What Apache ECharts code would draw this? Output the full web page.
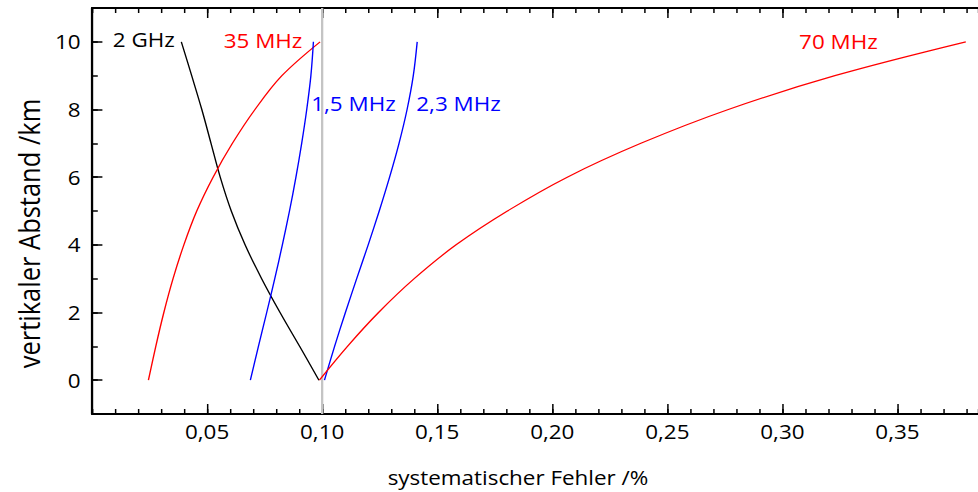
<!DOCTYPE html>
<html>
<head>
<meta charset="utf-8">
<script src="https://cdn.jsdelivr.net/npm/echarts@6/dist/echarts.min.js"></script>
<style>
  html, body { margin: 0; padding: 0; background: #fff; overflow: hidden; }
  /* The figure uses a horizontally widened type, so the drawing is stretched along x. */
  #chart { width: 850px; height: 492px; transform: scaleX(1.150588); transform-origin: 0 0; }
</style>
</head>
<body>
<div id="chart"></div>
<script>
// vertical distance (km) at which each curve was evaluated
const yKm = [0, 1, 2, 3, 4, 5, 6, 7, 8, 9, 10];

// systematic error (%) for each frequency, one value per entry of yKm
const err2GHz   = [0.0986, 0.0902, 0.0817, 0.0737, 0.0665, 0.0605, 0.0557, 0.0517, 0.0477, 0.0433, 0.0388];
const err35MHz  = [0.0245, 0.0277, 0.0312, 0.0352, 0.0399, 0.0455, 0.0526, 0.0610, 0.0708, 0.0825, 0.0991];
const err15MHz  = [0.0688, 0.0723, 0.0759, 0.0794, 0.0827, 0.0858, 0.0886, 0.0911, 0.0933, 0.0951, 0.0962];
const err23MHz  = [0.1010, 0.1054, 0.1101, 0.1150, 0.1200, 0.1248, 0.1293, 0.1334, 0.1369, 0.1396, 0.1413];
const err70MHz  = [0.0988, 0.1110, 0.1245, 0.1400, 0.1582, 0.1805, 0.2065, 0.2385, 0.2765, 0.3228, 0.3797];

// curve names
const curveNames = ['2 GHz', '35 MHz', '1,5 MHz', '2,3 MHz', '70 MHz'];

// reference error level marked by the grey vertical line
const refError = 0.10;

// axis ranges and tick values
const xMin = 0, xMax = 0.385;
const yMin = -1, yMax = 11;
const xMajorTicks = [0.05, 0.10, 0.15, 0.20, 0.25, 0.30, 0.35];
const yMajorTicks = [0, 2, 4, 6, 8, 10];

const FONT = 'Open Sans';
const chart = echarts.init(document.getElementById('chart'), null, { renderer: 'svg' });

const fmtX = v => v.toFixed(2).replace('.', ',');

function xAxisDef(pos, major, withLabels) {
  return {
    type: 'value', position: pos, min: xMin, max: xMax,
    interval: major ? 0.05 : 0.01,
    axisLine: { show: !major, onZero: false, lineStyle: { color: '#000', width: 2 } },
    axisTick: major
      ? { show: true, inside: true, length: 10, customValues: xMajorTicks, lineStyle: { color: '#000', width: 1.3 } }
      : { show: true, inside: true, length: 5, lineStyle: { color: '#000', width: 1.3 } },
    axisLabel: withLabels
      ? { show: true, customValues: xMajorTicks, formatter: fmtX, margin: 8,
          fontFamily: FONT, fontSize: 19.5, color: '#000' }
      : { show: false },
    splitLine: { show: false }
  };
}

function yAxisDef(major) {
  return {
    type: 'value', position: 'left', min: yMin, max: yMax, interval: 1,
    axisLine: { show: !major, onZero: false, lineStyle: { color: '#000', width: 2 } },
    axisTick: major
      ? { show: true, inside: true, length: 9, customValues: yMajorTicks, lineStyle: { color: '#000', width: 1.5 } }
      : { show: true, inside: true, length: 5, lineStyle: { color: '#000', width: 1.5 } },
    axisLabel: major
      ? { show: false }
      : { show: true, customValues: yMajorTicks, formatter: v => String(v), margin: 10,
          fontFamily: FONT, fontSize: 19.5, color: '#000' },
    splitLine: { show: false }
  };
}

function curve(name, xs, color) {
  return {
    name: name, type: 'line', xAxisIndex: 0, yAxisIndex: 0,
    data: yKm.map((y, i) => [xs[i], y]),
    showSymbol: false, symbol: 'none', smooth: 0.35, clip: true, z: 3,
    lineStyle: { color: color, width: 1.2 }
  };
}

function tag(text, x, y, color) {
  return {
    type: 'text', x: x, y: y, z: 10,
    style: { text: text, fill: color, font: '19.5px "' + FONT + '"', align: 'center', verticalAlign: 'middle' }
  };
}

const option = {
  animation: false,
  backgroundColor: '#fff',
  grid: { left: 80, right: 0, top: 8, bottom: 78 },
  xAxis: [
    xAxisDef('bottom', false, true),
    xAxisDef('bottom', true, false),
    xAxisDef('top', false, false),
    xAxisDef('top', true, false)
  ],
  yAxis: [yAxisDef(false), yAxisDef(true)],
  series: [
    {
      name: 'ref', type: 'line', xAxisIndex: 0, yAxisIndex: 0,
      data: [[refError, yMin], [refError, yMax]],
      showSymbol: false, symbol: 'none', z: 1,
      lineStyle: { color: '#c4c4c4', width: 2 }
    },
    curve(curveNames[0], err2GHz, '#000000'),
    curve(curveNames[1], err35MHz, '#ff0000'),
    curve(curveNames[2], err15MHz, '#0000ff'),
    curve(curveNames[3], err23MHz, '#0000ff'),
    curve(curveNames[4], err70MHz, '#ff0000')
  ],
  graphic: [
    tag(curveNames[0], 125, 40, '#000000'),
    tag(curveNames[1], 228.6, 40.5, '#ff0000'),
    tag(curveNames[2], 307.2, 104, '#0000ff'),
    tag(curveNames[3], 398.5, 104, '#0000ff'),
    tag(curveNames[4], 728.7, 41.5, '#ff0000'),
    {
      type: 'text', x: 450.2, y: 478, z: 10,
      style: { text: 'systematischer Fehler /%', fill: '#000', font: '19.5px "' + FONT + '"',
               align: 'center', verticalAlign: 'middle' }
    },
    {
      type: 'text', x: 25, y: 233.5, rotation: Math.PI / 2, z: 10,
      style: { text: 'vertikaler Abstand /km', fill: '#000', font: '25.5px "' + FONT + '"',
               align: 'center', verticalAlign: 'middle' }
    }
  ]
};

chart.setOption(option);
</script>
</body>
</html>
